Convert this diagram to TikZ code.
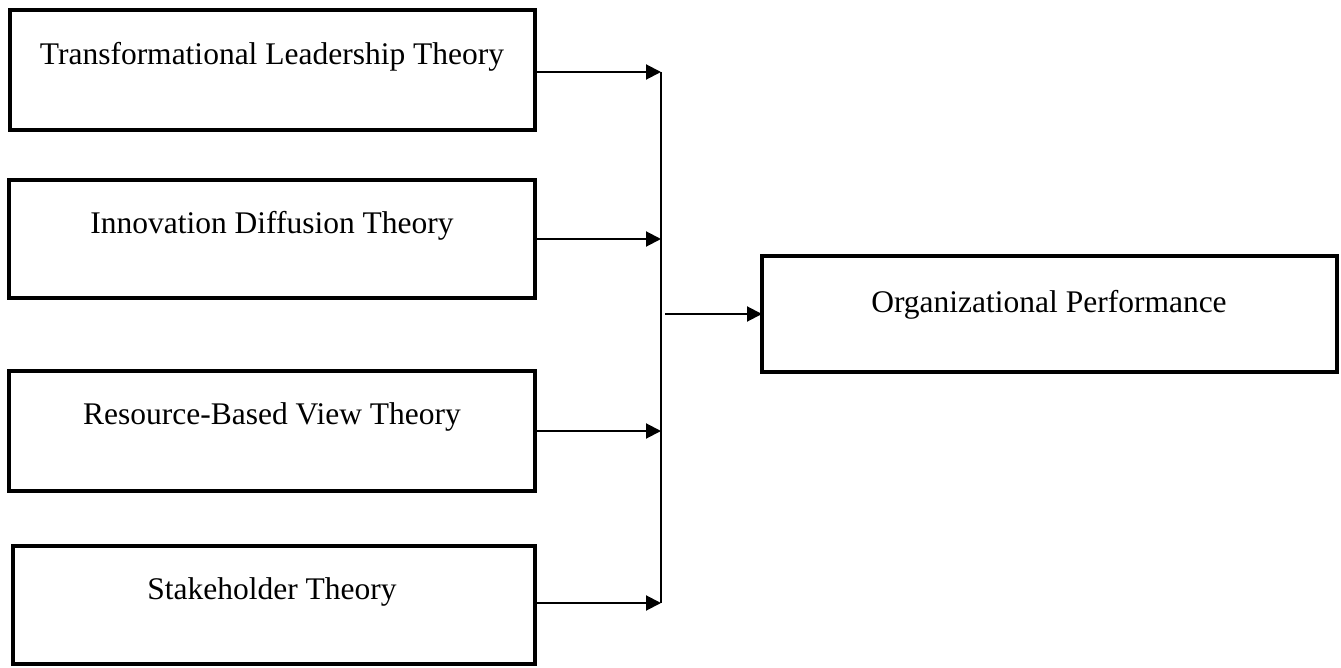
\documentclass[tikz,border=0pt]{standalone}
\usepackage{fontspec}
\setmainfont{Liberation Serif}
\usetikzlibrary{arrows.meta}
\begin{document}
\begin{tikzpicture}[x=1pt,y=-1pt,
  box/.style={draw,line width=4pt,inner sep=0pt,outer sep=0pt},
  lbl/.style={font=\fontsize{31.5}{36}\selectfont,inner sep=0pt},
  conn/.style={line width=2pt},
  arr/.style={conn,-{Triangle[length=15pt,width=15pt]}}]
\useasboundingbox (0,0) rectangle (1341,668);
\node[box,minimum width=525pt,minimum height=120pt] (b1) at (272.5,70) {};
\node[box,minimum width=526pt,minimum height=118pt] (b2) at (272,239) {};
\node[box,minimum width=526pt,minimum height=120pt] (b3) at (272,431) {};
\node[box,minimum width=522pt,minimum height=118pt] (b4) at (274,605) {};
\node[box,minimum width=575pt,minimum height=116pt] (b5) at (1049.5,314) {};
\node[lbl] (t1) at (272,57) {Transformational Leadership Theory};
\node[lbl] (t2) at (272,226) {Innovation Diffusion Theory};
\node[lbl] (t3) at (272,417) {Resource-Based View Theory};
\node[lbl] (t4) at (272,592) {Stakeholder Theory};
\node[lbl] (t5) at (1049,305) {Organizational Performance};
\coordinate (bus) at (661,314);
\coordinate (e1) at ([yshift=-2pt]b1.east);
\coordinate (e4) at ([yshift=2pt]b4.east);
\draw[conn] (e1 -| bus) -- (e4 -| bus);
\draw[arr] (e1) -- (e1 -| bus);
\draw[arr] (b2.east) -- (b2.east -| bus);
\draw[arr] (b3.east) -- (b3.east -| bus);
\draw[arr] (e4) -- (e4 -| bus);
\draw[arr,shorten <=4pt] (bus) -- (b5.west);
\end{tikzpicture}
\end{document}
